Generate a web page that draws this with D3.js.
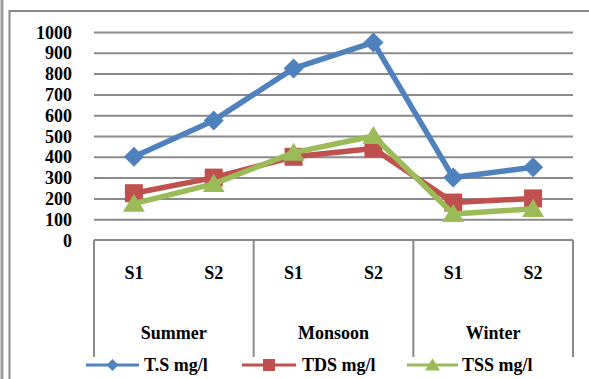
<!DOCTYPE html>
<html>
<head>
<meta charset="utf-8">
<script src="https://cdn.jsdelivr.net/npm/d3@7"></script>
<style>
  html, body { margin: 0; padding: 0; background: #fff; }
  svg { display: block; }
</style>
</head>
<body>
<svg id="chart" width="589" height="379"></svg>
<script>
// Seasons and sampling sites
const seasons = ["Summer", "Monsoon", "Winter"];
const sites = ["S1", "S2"];
const categories = ["Summer|S1", "Summer|S2", "Monsoon|S1", "Monsoon|S2", "Winter|S1", "Winter|S2"];

// Measured values (mg/l)
const tsValues  = [400, 575, 825, 950, 300, 350];
const tdsValues = [225, 300, 400, 440, 180, 200];
const tssValues = [175, 270, 420, 500, 125, 150];

const seriesNames = ["T.S mg/l", "TDS mg/l", "TSS mg/l"];
const seriesColors = ["#4F81BD", "#C0504D", "#9BBB59"];
const seriesShapes = ["diamond", "square", "triangle"];
const yTicks = [0, 100, 200, 300, 400, 500, 600, 700, 800, 900, 1000];

const series = [tsValues, tdsValues, tssValues].map((values, i) => ({
  name: seriesNames[i], color: seriesColors[i], shape: seriesShapes[i], values
}));

const FONT = "'Liberation Serif', 'DejaVu Serif', 'Times New Roman', Times, serif";

const svg = d3.select("#chart")
  .attr("font-family", FONT).attr("font-weight", "bold");
const grid = "#8a8a8a";
const plotLeft = 94, plotRight = 573, plotTop = 32, plotBottom = 240;

// Frame of the chart area
svg.append("line").attr("x1", 2).attr("x2", 2).attr("y1", 0).attr("y2", 379)
  .attr("stroke", "#9a9a9a").attr("stroke-width", 3);
svg.append("line").attr("x1", 9.5).attr("x2", 9.5).attr("y1", 10).attr("y2", 379)
  .attr("stroke", "#8a8a8a").attr("stroke-width", 2);
svg.append("line").attr("x1", 9).attr("x2", 589).attr("y1", 11).attr("y2", 11)
  .attr("stroke", "#8a8a8a").attr("stroke-width", 2);

const x = d3.scaleBand().domain(categories).range([plotLeft, plotRight]).padding(0);
const xGroup = d3.scaleBand().domain(seasons).range([plotLeft, plotRight]).padding(0);
const y = d3.scaleLinear().domain([0, 1000]).range([plotBottom, plotTop]);
const cx = c => x(c) + x.bandwidth() / 2;

// Horizontal gridlines
const yAxis = svg.append("g")
  .attr("transform", `translate(${plotLeft},0)`)
  .call(d3.axisLeft(y).tickValues(yTicks.filter(t => t > 0)).tickSize(-(plotRight - plotLeft)).tickFormat(""));
yAxis.select(".domain").remove();
yAxis.selectAll(".tick line").attr("stroke", grid).attr("stroke-width", 2);

// Value labels
svg.append("g").selectAll("text").data(yTicks).join("text")
  .attr("x", 72).attr("y", d => y(d) + 6.5)
  .attr("text-anchor", "end").attr("font-size", 18).text(d => d);

// Category axis box
const axisG = svg.append("g").attr("stroke", grid).attr("stroke-width", 2);
axisG.append("line").attr("x1", plotLeft).attr("x2", plotRight)
  .attr("y1", y(0)).attr("y2", y(0));
const bounds = seasons.map(s => xGroup(s)).concat([plotRight]);
axisG.selectAll("line.sep").data(bounds).join("line").attr("class", "sep")
  .attr("x1", d => d).attr("x2", d => d).attr("y1", y(0)).attr("y2", 357);

svg.append("g").selectAll("text").data(categories).join("text")
  .attr("x", cx).attr("y", 279).attr("text-anchor", "middle").attr("font-size", 18)
  .text(d => d.split("|")[1]);
svg.append("g").selectAll("text").data(seasons).join("text")
  .attr("x", d => xGroup(d) + xGroup.bandwidth() / 2).attr("y", 339)
  .attr("text-anchor", "middle").attr("font-size", 18).text(d => d);

// Marker shapes
function markerPath(shape, s) {
  if (shape === "diamond") return `M0,${-s}L${s},0L0,${s}L${-s},0Z`;
  if (shape === "square") return `M${-s},${-s}H${s}V${s}H${-s}Z`;
  return `M0,${-s * 1.05}L${s * 1.15},${s * 0.85}L${-s * 1.15},${s * 0.85}Z`;
}
const markerSize = { diamond: 10, square: 9, triangle: 9.5 };

const line = d3.line().x((d, i) => cx(categories[i])).y(d => y(d));

series.forEach(s => {
  const g = svg.append("g");
  g.append("path").datum(s.values).attr("d", line)
    .attr("fill", "none").attr("stroke", s.color).attr("stroke-width", 5.5)
    .attr("stroke-linejoin", "round");
  g.selectAll("path.m").data(s.values).join("path").attr("class", "m")
    .attr("transform", (d, i) => `translate(${cx(categories[i])},${y(d)})`)
    .attr("d", markerPath(s.shape, markerSize[s.shape]))
    .attr("fill", s.color);
});

// Legend
const legendItems = [
  { x1: 86, x2: 139, tx: 144 },
  { x1: 242, x2: 296, tx: 302 },
  { x1: 407, x2: 458, tx: 462 }
];
const ly = 365;
series.forEach((s, i) => {
  const it = legendItems[i];
  const g = svg.append("g");
  g.append("line").attr("x1", it.x1).attr("x2", it.x2).attr("y1", ly).attr("y2", ly)
    .attr("stroke", s.color).attr("stroke-width", 3);
  g.append("path").attr("transform", `translate(${(it.x1 + it.x2) / 2},${ly})`)
    .attr("d", markerPath(s.shape, s.shape === "triangle" ? 6.5 : 6)).attr("fill", s.color);
  g.append("text").attr("x", it.tx).attr("y", 371).attr("font-size", 18).text(s.name);
});
</script>
</body>
</html>
